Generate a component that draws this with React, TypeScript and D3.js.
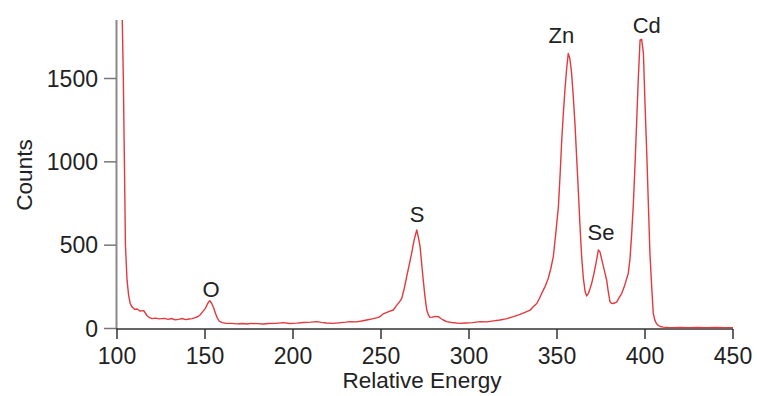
import React from "react";
import * as d3 from "d3";

const energy: number[] = [
  102.5, 103.0, 103.6, 104.2, 104.8, 105.7, 106.6, 107.5, 108.5, 110.0, 111.4, 113.0, 115.2, 117.0, 118.5, 119.9,
  122, 124, 127, 129, 131, 133, 135, 137, 139, 141, 142.6, 144.5, 146, 147.2, 148.5, 150.2, 151.5, 152.7, 153.8,
  155.0, 156.0, 156.8, 158, 159.7, 162, 165.3, 168, 171, 174, 176, 180, 183, 186, 190, 194.5, 198, 202, 206, 210,
  213.5, 216, 219, 222.9, 226, 230, 232.4, 236, 239, 241.9, 245, 248, 249.4, 251.3, 254, 257, 259, 260.5, 261.8,
  263.2, 264.6, 266, 267.4, 268.8, 270.3, 271.2, 272.2, 273.1, 274, 275, 276, 277, 277.8, 279, 281, 282.6, 284,
  285.4, 287.3, 290, 294.9, 298, 302, 306.3, 310, 314, 317.6, 321, 325.2, 329, 332.8, 334.7, 336.5, 338.5, 340,
  341.5, 343.2, 345, 346.5, 347.9, 349.4, 350.8, 351.8, 352.7, 353.6, 354.5, 355.5, 356.4, 357.3, 358.3, 359.2,
  360.2, 361.1, 362.1, 363, 364, 365, 366, 366.9, 367.8, 368.8, 369.7, 371, 372.3, 373.5, 374.4, 375.5, 377.3,
  378.2, 379, 380.1, 381, 382, 383.9, 385.3, 386.8, 388.5, 390.5, 391.5, 392.5, 393.4, 394.4, 395.3, 396.2, 397.2,
  398.1, 399.1, 400, 401, 401.9, 402.8, 403.8, 404.7, 405.6, 406.5, 407.6, 408.6, 410.4, 413, 416, 420, 425, 430,
  435, 440, 445, 450,
];

const counts: number[] = [
  2300, 1850, 1500, 1000, 500, 290, 200, 150, 130, 115, 117, 105, 107, 78, 65, 59,
  62, 58, 61, 55, 60, 52, 55, 60, 53, 57, 59, 65, 72, 81, 98, 121, 150, 167, 150,
  121, 90, 67, 45, 35, 31, 31, 28, 30, 27, 31, 29, 27, 30, 31, 35, 30, 32, 36, 38,
  41, 37, 33, 31, 34, 38, 41, 40, 45, 51, 58, 65, 71, 88, 100, 111, 140, 160, 181,
  240, 311, 380, 451, 530, 591, 550, 491, 390, 291, 190, 111, 80, 67, 68, 72, 71, 60,
  51, 41, 36, 31, 33, 35, 41, 40, 46, 51, 58, 71, 85, 101, 110, 130, 150, 180,
  215, 251, 300, 360, 431, 580, 731, 930, 1131, 1290, 1431, 1560, 1651, 1620, 1531, 1400,
  1231, 1040, 831, 630, 431, 300, 220, 195, 210, 240, 271, 330, 400, 471, 460, 410, 331,
  291, 230, 160, 151, 150, 158, 185, 211, 260, 331, 420, 580, 751, 1000, 1251, 1500, 1731,
  1735, 1651, 1350, 1051, 750, 451, 250, 91, 50, 30, 18, 12, 8, 6, 5, 6, 5, 6,
  5, 6, 5, 5,
];

const xTicks: number[] = [100, 150, 200, 250, 300, 350, 400, 450];
const yTicks: number[] = [0, 500, 1000, 1500];

const peakNames: string[] = ["O", "S", "Zn", "Se", "Cd"];
const peakEnergy: number[] = [153.4, 270.5, 352.5, 375.0, 401.0];
const peakLabelCounts: number[] = [189, 639, 1713, 531, 1773];

const W = 757;
const H = 396;
const FONT = "'Liberation Sans', Arial, Helvetica, sans-serif";

export default function App() {
  const x = d3.scaleLinear().domain([100, 450]).range([117, 733]);
  const y = d3.scaleLinear().domain([0, 1851]).range([328.5, 20]);
  const pts = energy.map((e, i) => [e, counts[i]] as [number, number]);
  const line = d3
    .line<[number, number]>()
    .x((d) => x(d[0]))
    .y((d) => y(d[1]))
    .curve(d3.curveLinear);
  const [r0, r1] = x.range();
  const [yb, yt] = y.range();

  return (
    <svg
      width={W}
      height={H}
      viewBox={`0 0 ${W} ${H}`}
      style={{ position: "absolute", left: 0, top: 0, background: "#fff" }}
    >
      <defs>
        <clipPath id="plot">
          <rect x={r0 - 2} y={yt} width={r1 - r0 + 4} height={yb - yt + 2} />
        </clipPath>
      </defs>
      <rect x={0} y={0} width={W} height={H} fill="#fff" />

      {/* y axis */}
      <line x1={116.5} x2={116.5} y1={yt} y2={yb + 0.5} stroke="#8a8a8a" strokeWidth={2} />
      {yTicks.map((t) => (
        <g key={"y" + t}>
          <line x1={104} x2={116} y1={y(t)} y2={y(t)} stroke="#777" strokeWidth={1.5} />
          <text
            x={98}
            y={y(t)}
            dy="0.36em"
            textAnchor="end"
            fontFamily={FONT}
            fontSize={23}
            fill="#222"
          >
            {t}
          </text>
        </g>
      ))}

      {/* x axis */}
      <line x1={116} x2={r1} y1={329} y2={329} stroke="#333" strokeWidth={1.5} />
      {xTicks.map((t) => (
        <g key={"x" + t}>
          <line x1={x(t)} x2={x(t)} y1={329} y2={339} stroke="#333" strokeWidth={1.5} />
          <text x={x(t)} y={364} textAnchor="middle" fontFamily={FONT} fontSize={23} fill="#222">
            {t}
          </text>
        </g>
      ))}

      <text x={422} y={388} textAnchor="middle" fontFamily={FONT} fontSize={22.5} fill="#222">
        Relative Energy
      </text>
      <text
        transform={`translate(32,175) rotate(-90)`}
        textAnchor="middle"
        fontFamily={FONT}
        fontSize={22.5}
        fill="#222"
      >
        Counts
      </text>

      <g clipPath="url(#plot)">
        <path d={line(pts) || ""} fill="none" stroke="#e2393d" strokeWidth={1.4} strokeLinejoin="round" />
      </g>

      {peakNames.map((n, i) => (
        <text
          key={n}
          x={x(peakEnergy[i])}
          y={y(peakLabelCounts[i])}
          textAnchor="middle"
          fontFamily={FONT}
          fontSize={22}
          fill="#222"
        >
          {n}
        </text>
      ))}
    </svg>
  );
}
